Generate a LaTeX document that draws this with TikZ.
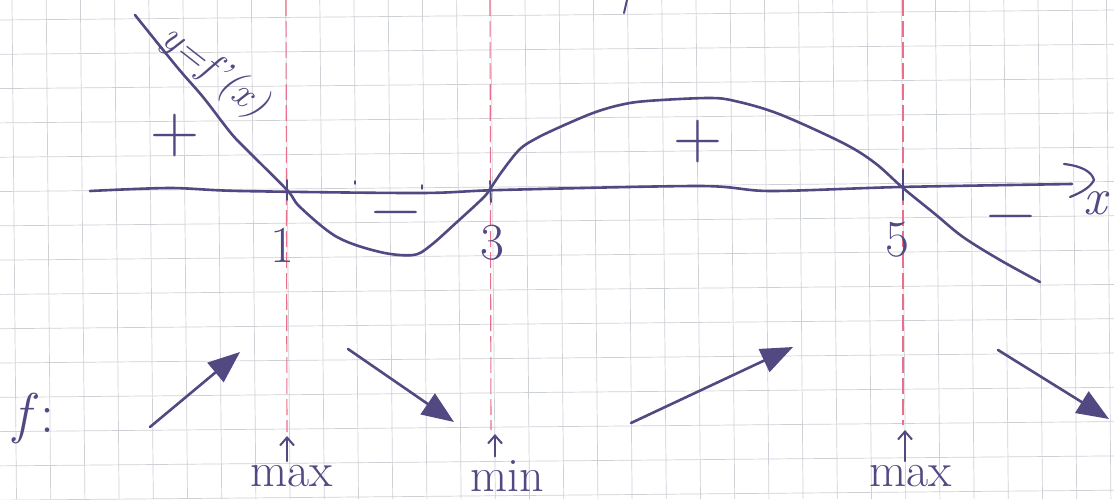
\documentclass[tikz,border=0pt]{standalone}
\usetikzlibrary{arrows.meta}
\definecolor{ink}{RGB}{82,72,130}
\definecolor{redline}{RGB}{232,112,140}
\definecolor{gridc}{RGB}{205,208,212}
\begin{document}
\begin{tikzpicture}[x=1pt,y=-1pt,
  pen/.style={draw=ink,line width=2.6pt,line cap=round,line join=round},
  gridline/.style={draw=gridc,line width=0.7pt},
  marker/.style={draw=redline,line width=1.1pt,dash pattern=on 16pt off 5pt},
  numlbl/.style={text=ink,inner sep=0pt,font=\fontsize{52}{52}\selectfont},
  sign/.style={text=ink,inner sep=0pt,font=\fontsize{68}{68}\selectfont},
  word/.style={text=ink,inner sep=0pt,font=\fontsize{48}{48}\selectfont},
  trend/.style={pen,line width=2.6pt,-{Triangle[length=32pt,width=25pt,fill=ink]}},
  upmark/.style={pen,line width=2pt,shorten <=4pt,-{Straight Barb[length=8pt,width=14pt]}}
]
\useasboundingbox (0,0) rectangle (1114,499);
\fill[white] (0,0) rectangle (1114,499);
% grid paper
\foreach \k in {0,...,32} \draw[gridline] ({12+34.2*\k},0) -- ({16.5+34.2*\k},499);
\foreach \k in {0,...,14} \draw[gridline] (0,{20+34.3*\k}) -- (1114,{10+34.3*\k});
% red marker lines
\coordinate (t1) at (286,0);  \coordinate (b1) at (287,432); \coordinate (a1) at (287,436);
\coordinate (t3) at (490,0);  \coordinate (b3) at (491,430); \coordinate (a3) at (495,434);
\coordinate (t5) at (903,0);  \coordinate (b5) at (903,425); \coordinate (a5) at (905,430);
\draw[marker] (t1) -- (b1);
\draw[marker] (t3) -- (b3);
\draw[marker] (t5) -- (b5);
% small stroke at the top
\draw[pen,line width=2pt] (627,0) -- (624,13);
% x axis
\draw[pen] plot[smooth] coordinates {(90,191) (170,188) (240,191) (420,193) (500,190) (700,186) (770,191) (900,187) (1072,184)};
\draw[pen,line width=2.2pt] (1064,164) .. controls (1082,166) and (1092,172) .. (1094,180) .. controls (1090,188) and (1080,193) .. (1070,197);
\node[text=ink,inner sep=0pt,font=\fontsize{52}{52}\selectfont\itshape] (xl) at (1095,203) {x};
% ticks
\draw[pen,line width=1.8pt] (287,180) -- (287,200);
\draw[pen,line width=1.8pt] (490,181) -- (491,202);
\draw[pen,line width=1.8pt] (903,170) -- (903,200);
\draw[pen,line width=1.4pt] (355,181) -- (355,184);
\draw[pen,line width=1.4pt] (422,185) -- (422,189);
% graph of f'
\draw[pen] plot[smooth,tension=0.55] coordinates {(135,15) (177,67) (203,97) (230,132) (245,148) (287,190) (300,207) (337,237) (380,252) (413,255) (430,246) (457,222) (483,198) (490,189) (503,170) (520,149) (537,138) (560,127) (593,113) (620,105) (647,101) (708,98) (735,101) (779,114) (843,143) (875,163) (903,188) (935,214) (963,237) (1000,260) (1040,282)};
\node[text=ink,inner sep=0pt,font=\fontsize{40}{40}\selectfont\itshape,rotate=-38] (fl) at (214,72) {y=f\kern1pt'(x)};
% labels on the axis
\node[numlbl] (n1) at (282,245) {1};
\node[numlbl] (n3) at (492,243) {3};
\node[numlbl] (n5) at (897,240) {5};
% signs
\node[sign] (p1) at (175,136) {+};
\node[sign] (m1) at (396,220) {−};
\node[sign] (p2) at (698,142) {+};
\node[sign] (m2) at (1011,224) {−};
% monotonicity of f
\node[text=ink,inner sep=0pt,font=\fontsize{56}{56}\selectfont] (fn) at (34,418) {\textit{f}\kern2pt:};
\coordinate (s1) at (150,427);  \coordinate (e1) at (240,352);
\coordinate (s2) at (348,349);  \coordinate (e2) at (454,422);
\coordinate (s3) at (631,423);  \coordinate (e3) at (793,347);
\coordinate (s4) at (998,350);  \coordinate (e4) at (1109,419);
\draw[trend] (s1) -- (e1);
\draw[trend] (s2) -- (e2);
\draw[trend] (s3) -- (e3);
\draw[trend] (s4) -- (e4);
% extrema
\node[word] (mx1) at (292,476) {max};
\node[word] (mn) at (507,476) {min};
\node[word] (mx2) at (911,476) {max};
\draw[upmark] (mx1.north -| a1) -- (a1);
\draw[upmark] (mn.north -| a3) -- (a3);
\draw[upmark] (mx2.north -| a5) -- (a5);
\end{tikzpicture}
\end{document}
